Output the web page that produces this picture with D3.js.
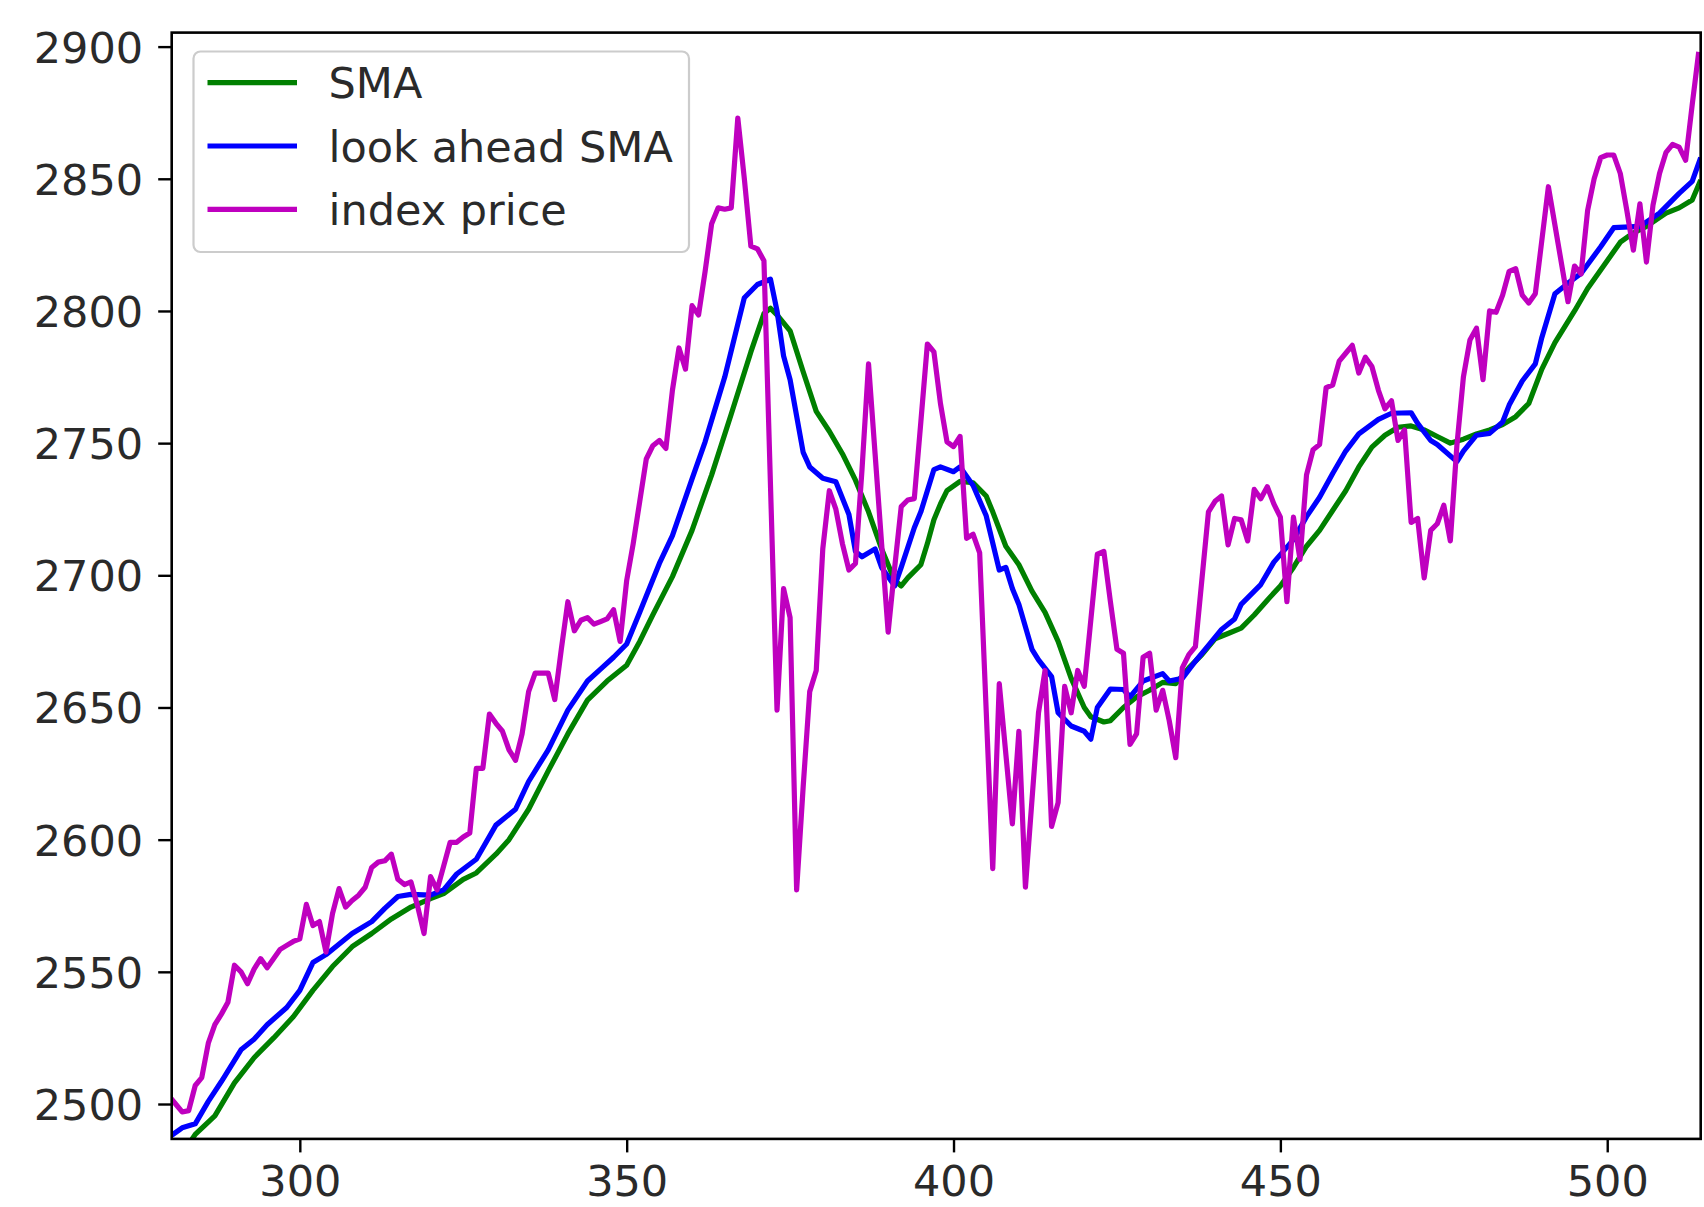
<!DOCTYPE html>
<html>
<head>
<meta charset="utf-8">
<script src="https://cdn.jsdelivr.net/npm/d3@7"></script>
<style>
  body { margin: 0; background: #fff; }
  svg { display: block; font-family: "DejaVu Sans", sans-serif; }
</style>
</head>
<body>
<div id="chart"></div>
<script>
// index price
const priceX = [280,281,282,283,284,285,286,287,288,289,290,291,292,293,294,295,296,297,298,299,
  300,301,302,303,304,305,306,307,308,309,310,311,312,313,314,315,316,317,318,319,
  320,321,322,323,324,325,326,327,328,329,330,331,332,333,334,335,336,337,338,339,
  340,341,342,343,344,345,346,347,348,349,350,351,352,353,354,355,356,357,358,359,
  360,361,362,363,364,365,366,367,368,369,370,371,373,374,375,376,377,378,379,
  380,381,382,383,384,385,386,387,388,389,390,391,392,393,394,395,396,397,398,399,
  400,401,402,403,404,406,407,409,410,411,413,414,415,416,417,418,419,
  420,422,423,424,425,426,427,428,429,430,431,432,433,434,435,436,437,439,
  440,441,442,443,444,445,446,447,448,449,450,451,452,453,454,455,456,457,458,459,
  460,461,462,463,464,465,466,467,468,469,470,471,472,473,474,475,476,477,478,479,
  480,481,482,483,484,485,486,487,488,489,491,494,495,496,497,498,499,
  500,501,502,503,504,505,506,507,508,509,510,511,512,513,514];
const priceY = [2503,2500,2497,2497.5,2507,2510,2523,2530,2534,2538.5,2552.5,2550,2545.5,2551,2555,2551.5,2555,2558.5,2560,2561.5,
  2562.5,2575.5,2567.5,2569,2557.5,2572,2581.5,2574.5,2577,2579,2582,2589.5,2591.5,2592,2594.5,2585,2583,2584,2575,2564.5,
  2586,2581,2590,2599,2599,2601,2602.5,2627,2627,2647.5,2644,2641,2634,2630,2640,2656,2663,2663,2663,2653,
  2672,2690,2679,2683,2684,2681.5,2682.5,2683.5,2687,2675,2698,2712,2728,2744,2749,2751,2748,2770,2786,2778,
  2802,2798.5,2815,2833,2839,2838.5,2839,2873,2850,2824.5,2823.5,2819,2649,2695,2684,2581,2620,2656,2664,
  2710,2732,2725,2712,2702,2704.5,2740,2780,2746,2712,2678.5,2703,2726,2728.5,2729,2758,2787.5,2784.5,2765,2750.5,
  2748.7,2752.5,2714,2715.5,2708.5,2589,2659,2606,2641,2582,2648,2664,2605,2614,2658,2648,2664,
  2658,2708,2709,2690,2672,2670.5,2636,2640,2669,2670.5,2649,2656.5,2645,2631,2665,2670,2673,2724,
  2728,2730,2711.5,2721.5,2721,2713,2732.5,2729,2733.5,2727,2722,2690,2722,2706,2738,2747.5,2749.5,2771,2772,2781,
  2784,2787,2776.5,2782.5,2779,2770,2763,2766,2751,2755,2720,2721.5,2699,2717,2719.5,2726.5,2713,2749,2775,2789,
  2793.5,2774,2800,2799.5,2806,2815,2816,2806,2803,2806.5,2847,2803.5,2817,2814,2838,2850,2858,
  2859,2859,2852,2838,2823,2840.5,2818.5,2840,2852,2860,2863,2862,2857,2878,2898];

// SMA
const smaX = [282,284,287,290,293,296,299,302,305,308,311,314,317,320,322,325,327,330,332,335,338,341,344,347,350,
  352,354,357,360,363,366,369,371,372,373,375,377,379,381,383,385,387,389,391,392,393,395,396,397,398,399,401,403,405,
  406,408,410,412,414,416,418,420,421,423,424,426,428,430,432,434,436,438,440,442,444,446,448,450,452,454,456,458,
  460,462,464,466,468,470,472,474,476,478,480,482,484,486,488,490,492,495,497,500,502,504,506,509,511,513,514.3];
const smaY = [2481,2488.5,2495.5,2508,2517.5,2525,2533,2543,2552,2559.5,2564.5,2570,2574.5,2577.7,2579.6,2585,2587.4,2594.5,2600,2611.5,2626,2640,2652.8,2660,2666,
  2675,2685,2699.5,2717,2738,2761,2784.5,2799,2801,2798.5,2792.5,2777,2762,2754.5,2746,2736,2724,2710,2698,2696,2699,2704,2712,2721,2727,2732,2735.5,2735,2730,
  2724,2711,2704,2694,2686,2675,2661,2650,2646.5,2644.5,2645,2650,2654,2656.5,2659.5,2659,2665,2670,2676,2678,2680,2685,2690.6,2696,2703,2711,2717,2724.5,
  2732,2741,2748.5,2753,2756,2756.5,2755,2752.5,2750,2751.5,2753.5,2755,2757,2760,2765,2778,2788,2800,2808.5,2819,2826,2829.5,2832,2837,2839,2842,2849.5];

// look ahead SMA
const lookX = [280,282,284,286,288,291,293,295,298,300,302,304,308,311,313,315,317,320,322,324,327,330,333,335,338,341,344,346,348,350,
  352,355,357,360,362,365,367,368,370,372,373,374,375,377,378,380,382,384,385,386,388,389,391,392,394,395,397,398,
  400,401,403,405,407,408,409,410,412,413,415,416,418,420,421,422,424,426,427,429,432,433,435,437,439,
  441,443,444,447,449,452,454,456,458,460,462,465,467,470,471,473,474,477,478,480,482,484,485,487,489,
  490,492,494,496,499,501,505,508,511,513,514.3];
const lookY = [2487.5,2491,2492.5,2501,2508.5,2520.5,2524.5,2530,2536.5,2543,2553.5,2556.5,2564.5,2569,2574,2578.5,2579.3,2579,2581,2587,2592.6,2605.5,2611.5,2622,2634,2649,2660,2664.5,2669,2674,
  2686,2704.5,2715,2736.5,2750.5,2775,2795,2805,2810,2812,2800,2783,2774,2746.5,2741,2736.7,2735.4,2723,2709,2707,2710,2703,2696,2703,2718,2724,2740,2741,
  2739.2,2741,2734,2722.5,2702,2703,2695,2689,2672,2668,2661.7,2648,2643,2641,2638,2650,2657,2656.8,2654,2660,2662.8,2660,2661,2667.5,2673.5,
  2679.5,2683.5,2689,2696.5,2705,2713.5,2722.2,2729.5,2738.5,2747,2753.5,2759,2761.3,2761.5,2757.5,2751,2749.5,2743,2747,2753,2753.7,2758,2764.4,2773.5,2780,
  2790,2806.5,2810.5,2814.2,2824.3,2831.5,2832,2837,2844.5,2849,2858];

const xTicks = [300, 350, 400, 450, 500];
const yTicks = [2500, 2550, 2600, 2650, 2700, 2750, 2800, 2850, 2900];
const legendLabels = ['SMA', 'look ahead SMA', 'index price'];

const W = 1704, H = 1207;
const margin = { top: 32.6, right: 3.3, bottom: 68.1, left: 171.7 };
const width = W - margin.left - margin.right;
const height = H - margin.top - margin.bottom;
const fontSize = 43;
const lw = 5.2;

const svg = d3.select('#chart').append('svg')
  .attr('width', W)
  .attr('height', H);

svg.append('rect').attr('width', W).attr('height', H).attr('fill', '#fff');

const x = d3.scaleLinear().domain([280.4, 514.3]).range([0, width]);
const y = d3.scaleLinear().domain([2486.8, 2905.3]).range([height, 0]);

const chart = svg.append('g')
  .attr('transform', `translate(${margin.left}, ${margin.top})`);

chart.append('clipPath').attr('id', 'plot-clip')
  .append('rect').attr('width', width).attr('height', height);

const series = [
  { xs: smaX, ys: smaY, color: '#008000' },
  { xs: lookX, ys: lookY, color: '#0000ff' },
  { xs: priceX, ys: priceY, color: '#bf00bf' }
];

const line = d3.line()
  .x(d => x(d[0]))
  .y(d => y(d[1]));

const lines = chart.append('g').attr('clip-path', 'url(#plot-clip)');
series.forEach(s => {
  lines.append('path')
    .datum(d3.zip(s.xs, s.ys))
    .attr('fill', 'none')
    .attr('stroke', s.color)
    .attr('stroke-width', lw)
    .attr('stroke-linejoin', 'round')
    .attr('d', line);
});

// axes, matplotlib look
const xAxis = chart.append('g')
  .attr('transform', `translate(0, ${height})`)
  .call(d3.axisBottom(x).tickValues(xTicks).tickSize(13.5).tickPadding(16).tickFormat(d3.format('d')));
const yAxis = chart.append('g')
  .call(d3.axisLeft(y).tickValues(yTicks).tickSize(13.5).tickPadding(15).tickFormat(d3.format('d')));

[xAxis, yAxis].forEach(a => {
  a.select('.domain').remove();
  a.selectAll('line').attr('stroke', '#000').attr('stroke-width', 2.4);
  a.selectAll('text')
    .attr('font-family', '"DejaVu Sans", sans-serif')
    .attr('font-size', fontSize)
    .attr('fill', '#2a2a2a');
});
// baseline kept high enough that the text box stays inside the picture
xAxis.selectAll('text').attr('dy', null).attr('y', 0).attr('transform', 'translate(0, 57)');
yAxis.selectAll('text').attr('dy', '0.36em');

// frame
chart.append('rect')
  .attr('width', width)
  .attr('height', height)
  .attr('fill', 'none')
  .attr('stroke', '#000')
  .attr('stroke-width', 2.6);

// legend
const legend = chart.append('g').attr('transform', 'translate(21.8, 18.9)');
legend.append('rect')
  .attr('width', 495.5)
  .attr('height', 200.5)
  .attr('rx', 7)
  .attr('fill', '#fff')
  .attr('fill-opacity', 0.8)
  .attr('stroke', '#cccccc')
  .attr('stroke-width', 2.2);

legendLabels.forEach((label, i) => {
  const cy = 31.2 + i * 63.3;
  legend.append('line')
    .attr('x1', 14).attr('x2', 103.5)
    .attr('y1', cy).attr('y2', cy)
    .attr('stroke', series[i].color)
    .attr('stroke-width', lw);
  legend.append('text')
    .attr('x', 135)
    .attr('y', cy + 15.5)
    .attr('font-size', fontSize)
    .attr('fill', '#2a2a2a')
    .text(label);
});
</script>
</body>
</html>
